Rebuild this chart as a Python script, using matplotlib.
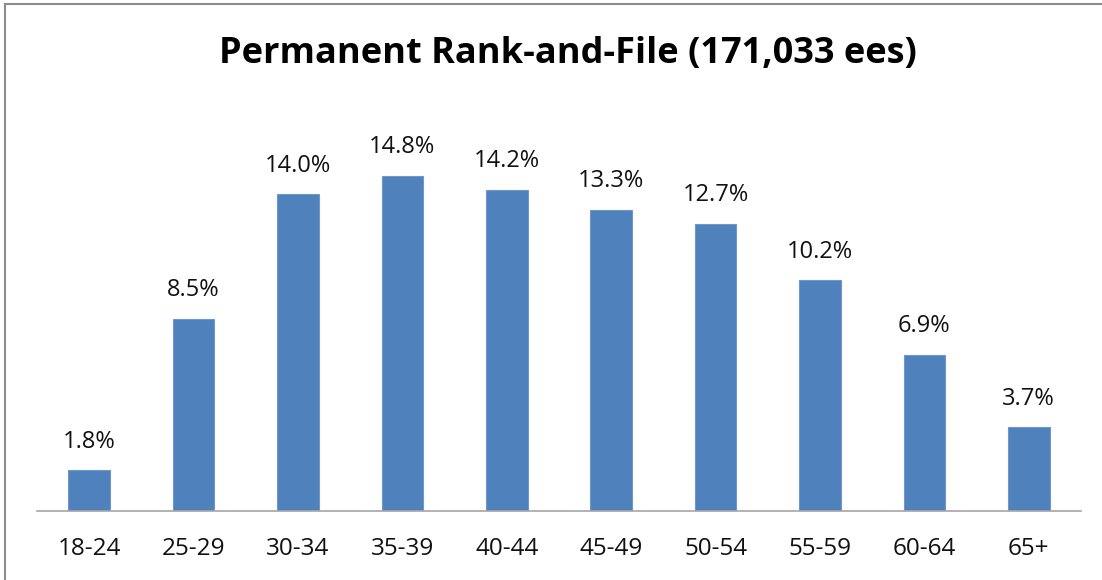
import matplotlib
matplotlib.use('Agg')
import matplotlib.pyplot as plt
from matplotlib.lines import Line2D

# data
age_groups = ['18-24', '25-29', '30-34', '35-39', '40-44', '45-49', '50-54', '55-59', '60-64', '65+']
shares = [1.8, 8.5, 14.0, 14.8, 14.2, 13.3, 12.7, 10.2, 6.9, 3.7]
title = 'Permanent Rank-and-File (171,033 ees)'

plt.rcParams['font.family'] = ['Open Sans', 'DejaVu Sans']

fig = plt.figure(figsize=(11.02, 5.8), dpi=100)
ax = fig.add_axes([37 / 1102, 69 / 580, 1044 / 1102, 362 / 580])

x = range(len(age_groups))
bars = ax.bar(x, shares, width=0.4, color='#4F81BD', edgecolor='#6F97CA', linewidth=0.8)

for bar, val in zip(bars, shares):
    ax.annotate(f'{val:.1f}%', (bar.get_x() + bar.get_width() / 2, bar.get_height()),
                xytext=(0, 12), textcoords='offset points',
                ha='center', va='bottom', fontsize=17, color='#111111')

ax.set_xlim(-0.5, len(age_groups) - 0.5)
ax.set_ylim(0, 16)
ax.set_xticks(list(x))
ax.set_xticklabels(age_groups, fontsize=17.5, color='#111111')
ax.tick_params(axis='x', length=0, pad=19)
ax.set_yticks([])
for side in ['top', 'right', 'left']:
    ax.spines[side].set_visible(False)
ax.spines['bottom'].set_color('#A6A6A6')
ax.spines['bottom'].set_linewidth(1.2)

fig.text(568 / 1102, 1 - 54 / 580, title, ha='center', va='center',
         fontsize=26, fontweight='bold', color='#000000')

# chart frame (left and top edges visible)
fig.add_artist(Line2D([5 / 1102, 5 / 1102], [0, 1 - 4 / 580], transform=fig.transFigure,
                      color='#8C8C8C', linewidth=1.5))
fig.add_artist(Line2D([5 / 1102, 1], [1 - 4 / 580, 1 - 4 / 580], transform=fig.transFigure,
                      color='#8C8C8C', linewidth=1.5))

plt.savefig('out.png', dpi=100)
